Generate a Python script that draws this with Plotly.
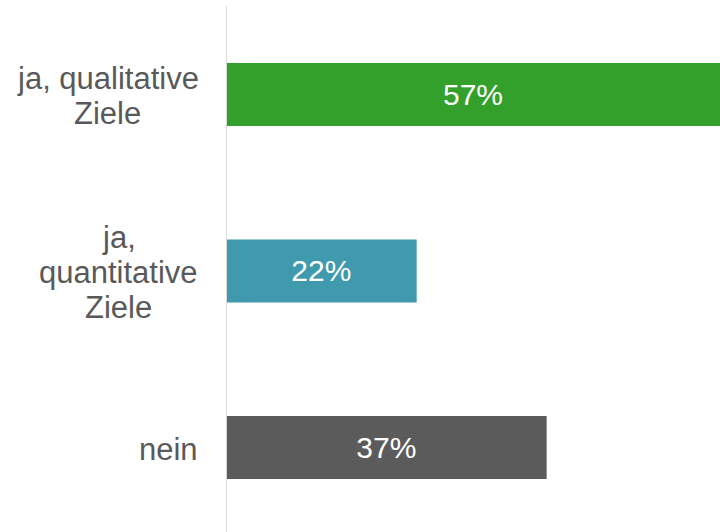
import plotly.graph_objects as go

categories = ["ja, qualitative Ziele", "ja, quantitative Ziele", "nein"]
label_lines = [["ja, qualitative", "Ziele"], ["ja,", "quantitative", "Ziele"], ["nein"]]
values = [57, 22, 37]
bar_colors = ["#33A02C", "#3F9AAE", "#5B5B5B"]

text_color = "#595959"
font_family = "Arial, Liberation Sans, sans-serif"
label_size = 31
line_step = 35

# Arial advance widths (per 1000 em) used to centre multi-line labels
ARIAL_W = {"j": 222, "a": 556, ",": 278, " ": 278, "q": 556, "u": 556, "l": 222,
           "i": 222, "t": 278, "v": 500, "e": 556, "n": 556, "Z": 611}


def text_width(s, size):
    return sum(ARIAL_W.get(c, 556) for c in s) * size / 1000.0


fig = go.Figure()
fig.add_trace(go.Bar(
    x=values,
    y=list(range(len(categories))),
    orientation="h",
    marker=dict(color=bar_colors, line=dict(width=0)),
    width=0.357,
    text=[f"{v}%" for v in values],
    textposition="inside",
    insidetextanchor="middle",
    textfont=dict(color="white", size=30, family=font_family),
    constraintext="none",
    hoverinfo="skip",
))

gap = 28
for i, lines in enumerate(label_lines):
    n = len(lines)
    block_w = max(text_width(ln, label_size) for ln in lines)
    for j, ln in enumerate(lines):
        fig.add_annotation(
            x=0, xref="x", xanchor="center", xshift=-gap - block_w / 2,
            y=i, yref="y", yanchor="middle",
            yshift=-((j - (n - 1) / 2) * line_step) - 2,
            text=ln, showarrow=False, align="center",
            font=dict(color=text_color, size=label_size, family=font_family),
        )

fig.add_shape(type="line", xref="x", yref="paper", x0=0, x1=0, y0=0, y1=1,
              line=dict(color="#D9D9D9", width=2), layer="above")

fig.update_layout(
    width=720, height=532,
    margin=dict(l=226, r=0, t=6, b=0),
    paper_bgcolor="white", plot_bgcolor="white",
    showlegend=False,
    xaxis=dict(range=[0, 57], showgrid=False, zeroline=False, showticklabels=False,
               showline=False, fixedrange=True),
    yaxis=dict(range=[2.479, -0.501], showgrid=False, zeroline=False,
               showticklabels=False, showline=False, fixedrange=True),
)

fig.write_html("out.html")
